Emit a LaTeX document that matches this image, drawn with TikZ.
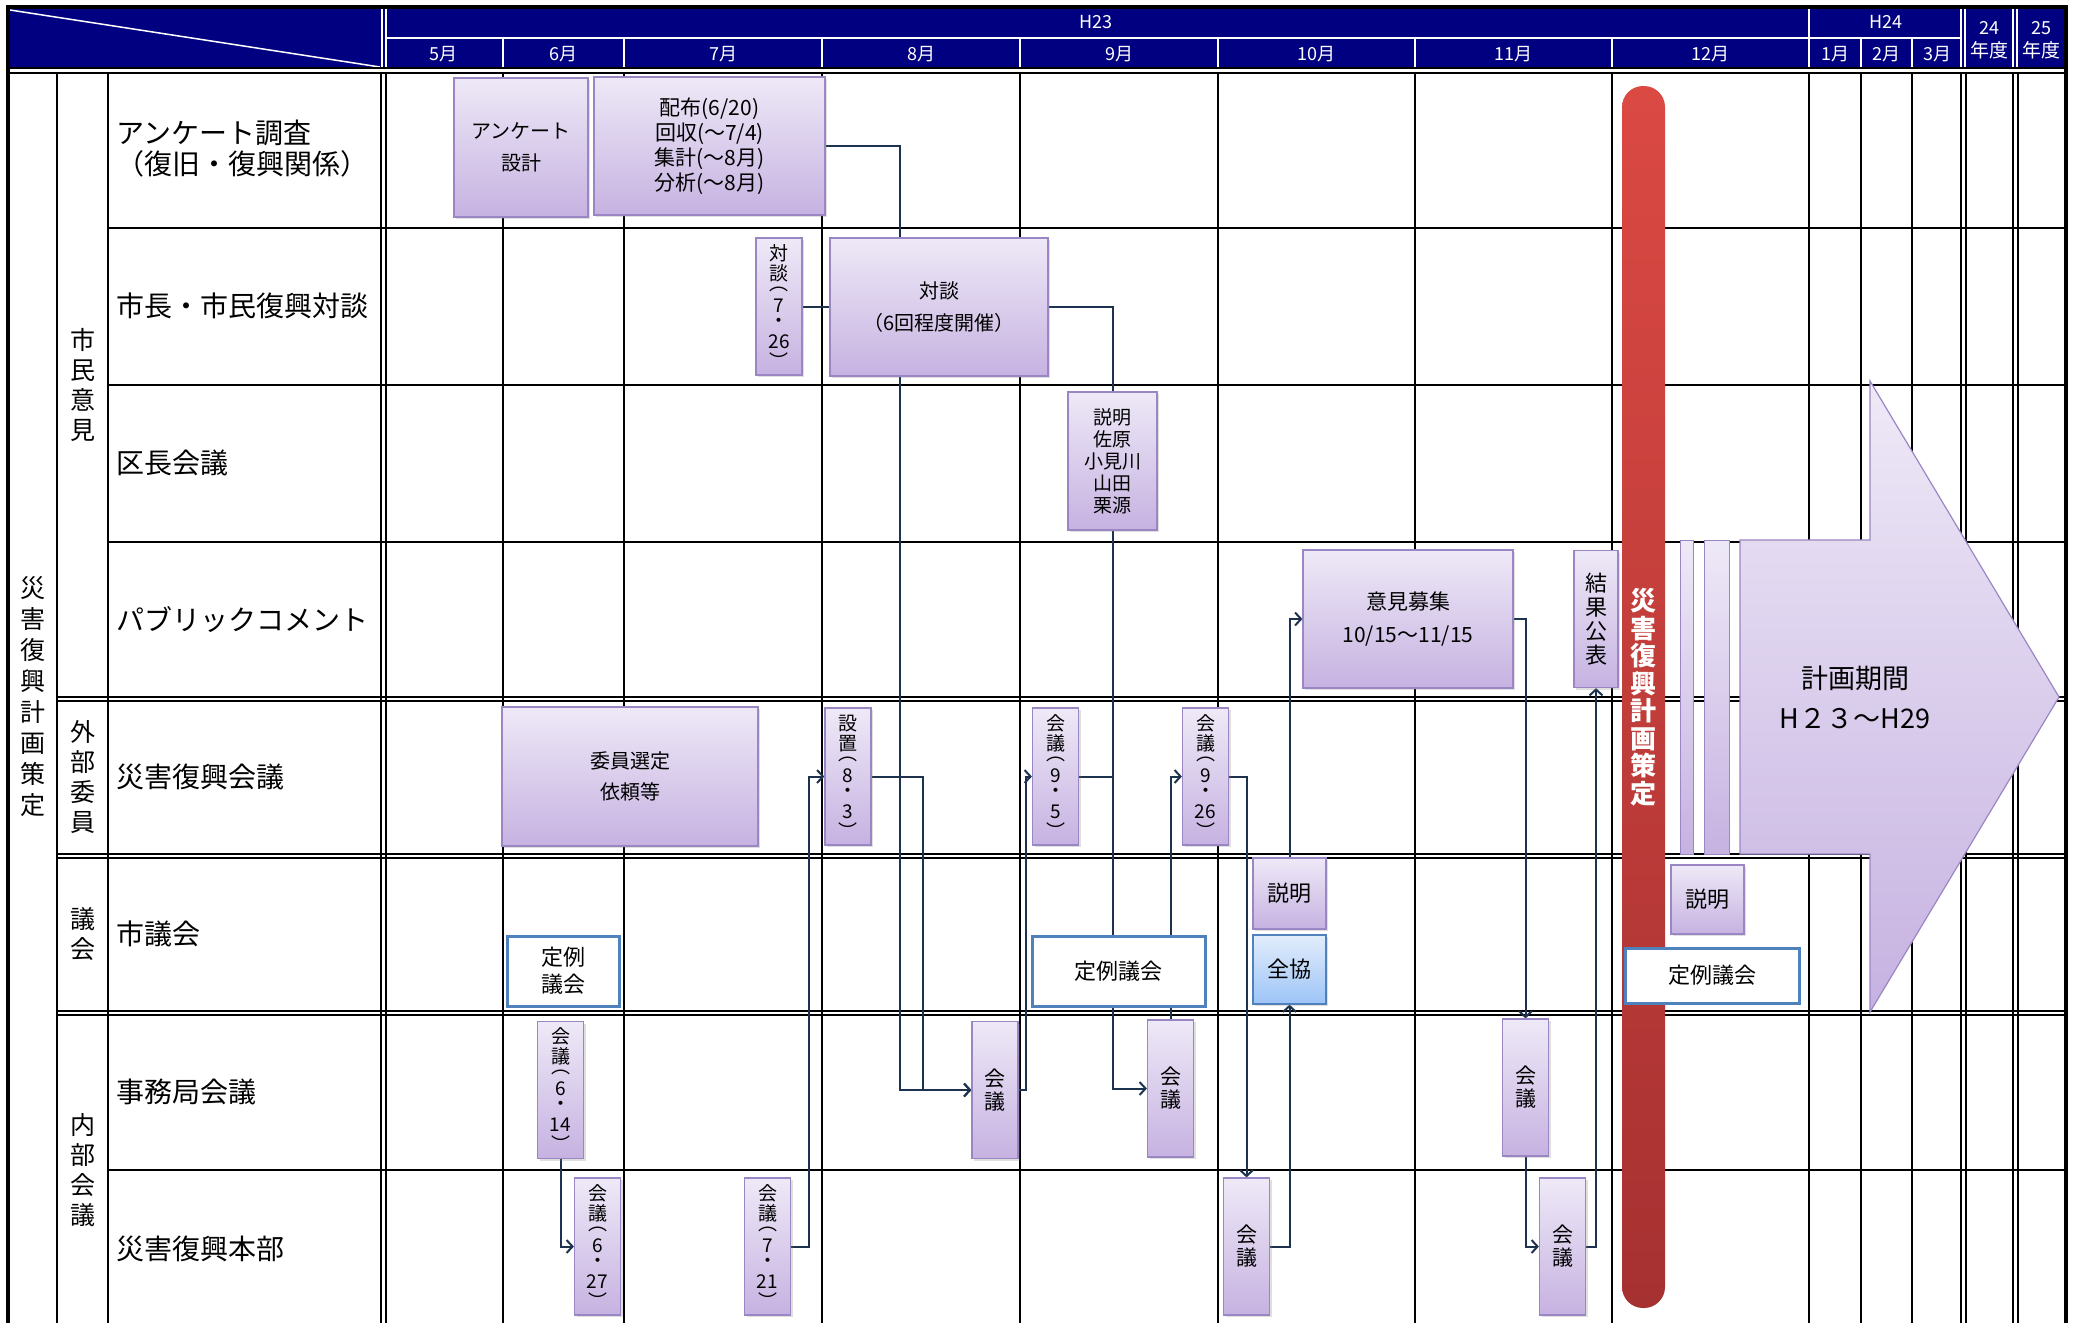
\documentclass[tikz,border=0pt]{standalone}
\usepackage{fontspec}
\setmainfont{Noto Sans CJK JP}
\usepackage{tikz}
\usetikzlibrary{arrows.meta, shadows, calc}
\definecolor{hdrblue}{HTML}{000080}
\definecolor{purtop}{HTML}{EEE9F7}
\definecolor{purbot}{HTML}{C6B2E1}
\definecolor{purline}{HTML}{9B86C4}
\definecolor{conncol}{HTML}{1C324E}
\definecolor{blueline}{HTML}{4F81BD}
\definecolor{zentop}{HTML}{E2EDFB}
\definecolor{zenbot}{HTML}{9DC4F7}
\definecolor{redtop}{HTML}{DB4943}
\definecolor{redbot}{HTML}{A63131}
\pgfdeclarelayer{grid}
\pgfdeclarelayer{lines}
\pgfsetlayers{grid,lines,main}

\begin{document}
\begin{tikzpicture}[x=1pt, y=-1pt,
    gridline/.style={line width=2pt},
    hdrline/.style={white, line width=1.5pt},
    hdr/.style={text=white, inner sep=0pt, font=\fontsize{18}{20}\selectfont},
    rowlbl/.style={anchor=west, align=left, inner sep=0pt, font=\fontsize{28}{31}\selectfont},
    grplbl/.style={align=center, inner sep=0pt, font=\fontsize{25}{30}\selectfont},
    box/.style={draw=purline, line width=1.2pt, top color=purtop, bottom color=purbot,
      inner sep=0pt, align=center, font=\fontsize{20}{25}\selectfont,
      drop shadow={shadow xshift=2pt, shadow yshift=-2pt, opacity=0.25}},
    tate/.style={box, minimum width=46pt, minimum height=137pt, font=\fontsize{19}{20}\selectfont},
    teirei/.style={draw=blueline, line width=3pt, fill=white, inner sep=0pt, align=center,
      font=\fontsize{22}{27}\selectfont},
    conn/.style={draw=conncol, line width=2pt},
    arr/.style={conn, -{Straight Barb[length=6pt, width=13pt, line width=2pt]}}]
  \useasboundingbox (0,0) rectangle (2083,1323);

  % 枠と罫線
  \begin{pgfonlayer}{grid}
    \fill[white] (0,0) rectangle (2083,1323);
    \fill[hdrblue] (8,8) rectangle (2066,68);
    \draw[hdrline] (10,10) -- (380,67);
    \draw[hdrline] (386,38) -- (1961,38);
    \foreach \x in {503,624,822,1020,1218,1415,1612,1861,1912}
      \draw[hdrline] (\x,38) -- (\x,68);
    \draw[hdrline] (1809,8) -- (1809,68);
    \foreach \x in {382,386,1961,1965,2013,2017}
      \draw[white, line width=1.2pt] (\x,8) -- (\x,68);
    \draw[line width=4pt] (6,7) -- (2068,7);
    \draw[line width=2.5pt] (8,68) -- (2066,68);
    \draw[line width=2pt] (8,73) -- (2066,73);
    \foreach \x in {57,108,503,624,822,1020,1218,1415,1612,1809,1861,1912}
      \draw[gridline] (\x,73) -- (\x,1323);
    \foreach \x in {381,386,1961,1966,2013,2018}
      \draw[line width=1.6pt] (\x,73) -- (\x,1323);
    \foreach \y in {228,385,542,1170}
      \draw[gridline] (108,\y) -- (2066,\y);
    \foreach \y in {697,701,854,858,1011,1015}
      \draw[line width=1.6pt] (57,\y) -- (2066,\y);
    \draw[line width=4pt] (8,7) -- (8,1323);
    \draw[line width=4pt] (2066,7) -- (2066,1323);
  \end{pgfonlayer}

  % 見出し
  \foreach \x/\t/\n in {443.5/5月/m5, 563.5/6月/m6, 723/7月/m7, 921/8月/m8, 1119/9月/m9,
      1316.5/10月/m10, 1513.5/11月/m11, 1710.5/12月/m12, 1835/1月/m1, 1886.5/2月/m2, 1937.5/3月/m3}
    \node[hdr] (\n) at (\x,54) {\t};
  \node[hdr] (h23) at (1096,22) {H23};
  \node[hdr] (h24) at (1886,22) {H24};
  \node[hdr] (y24) at (1989,28) {24};
  \node[hdr, font=\fontsize{19}{20}\selectfont] (y24b) at (1989,50) {年度};
  \node[hdr] (y25) at (2041,28) {25};
  \node[hdr, font=\fontsize{19}{20}\selectfont] (y25b) at (2041,50) {年度};

  % 左の区分
  \node[grplbl, font=\fontsize{25}{31}\selectfont] (sakuteiL) at (33,697) {災\\害\\復\\興\\計\\画\\策\\定};
  \node[grplbl] (shimin) at (83,385) {市\\民\\意\\見};
  \node[grplbl] (gaibu) at (83,777) {外\\部\\委\\員};
  \node[grplbl] (gikai) at (83,934) {議\\会};
  \node[grplbl] (naibu) at (83,1170) {内\\部\\会\\議};
  \node[rowlbl] (r1) at (116,149) {アンケート調査\\（復旧・復興関係）};
  \node[rowlbl] (r2) at (116,306) {市長・市民復興対談};
  \node[rowlbl] (r3) at (116,463) {区長会議};
  \node[rowlbl] (r4) at (116,620) {パブリックコメント};
  \node[rowlbl] (r5) at (116,777) {災害復興会議};
  \node[rowlbl] (r6) at (116,934) {市議会};
  \node[rowlbl] (r7) at (116,1092) {事務局会議};
  \node[rowlbl] (r8) at (116,1249) {災害復興本部};

  % 策定の帯と計画期間
  \path[top color=redtop, bottom color=redbot, rounded corners=21pt] (1622,86) rectangle (1665,1308);
  \node[text=white, align=center, font=\bfseries\fontsize{26}{27.5}\selectfont] (sakutei) at (1643.5,697)
    {災\\害\\復\\興\\計\\画\\策\\定};
  \path[draw=purline, line width=1.2pt, top color=purtop, bottom color=purbot]
    (1740,540) -- (1870,540) -- (1870,381) -- (2059,697) -- (1870,1012) -- (1870,854) -- (1740,854) -- cycle;
  \path[draw=purline, line width=1pt, top color=purtop, bottom color=purbot] (1680,540) rectangle (1693,854);
  \path[draw=purline, line width=1pt, top color=purtop, bottom color=purbot] (1704,540) rectangle (1729,854);
  \node[align=center, font=\fontsize{27}{40}\selectfont] (kikan) at (1855,697) {計画期間\\H２３～H29};

  % 市民意見
  \node[box, minimum width=134pt, minimum height=139pt, font=\fontsize{20}{32}\selectfont] (anketo) at (521,147.5) {アンケート\\設計};
  \node[box, minimum width=231pt, minimum height=138pt, font=\fontsize{21}{25}\selectfont] (haifu) at (709.5,146)
    {配布(6/20)\\回収(～7/4)\\集計(～8月)\\分析(～8月)};
  \node[tate] (taidan726) at (779,306.5) {対\\談\\[-10pt]︵\\[2pt]7\\[-5pt]・\\[1pt]26\\︶};
  \node[box, minimum width=218pt, minimum height=138pt, font=\fontsize{20}{32}\selectfont] (taidan) at (939,307) {対談\\（6回程度開催）};
  \node[box, minimum width=89pt, minimum height=138pt, font=\fontsize{19}{22}\selectfont] (kucho) at (1112.5,461) {説明\\佐原\\小見川\\山田\\栗源};
  \node[box, minimum width=210pt, minimum height=138pt, font=\fontsize{21}{33}\selectfont] (iken) at (1408,619) {意見募集\\10/15～11/15};
  \node[tate, minimum width=44pt, font=\fontsize{22}{24}\selectfont] (kekka) at (1596,619) {結\\果\\公\\表};

  % 外部委員
  \node[box, minimum width=256pt, minimum height=139pt, font=\fontsize{20}{31}\selectfont] (iin) at (630,776.5) {委員選定\\依頼等};
  \node[tate] (setchi) at (848,776.5) {設\\置\\[-10pt]︵\\[2pt]8\\[-5pt]・\\[1pt]3\\︶};
  \node[tate] (kaigi95) at (1055.5,776.5) {会\\議\\[-10pt]︵\\[2pt]9\\[-5pt]・\\[1pt]5\\︶};
  \node[tate] (kaigi926) at (1205.5,776.5) {会\\議\\[-10pt]︵\\[2pt]9\\[-5pt]・\\[1pt]26\\︶};

  % 議会
  \node[teirei, minimum width=112pt, minimum height=70pt] (teirei6) at (563,971) {定例\\議会};
  \node[teirei, minimum width=173pt, minimum height=70pt] (teirei9) at (1118.5,971) {定例議会};
  \node[box, minimum width=73pt, minimum height=71pt, font=\fontsize{22}{24}\selectfont] (setsumei10) at (1289.5,893.5) {説明};
  \node[box, draw=blueline, top color=zentop, bottom color=zenbot, minimum width=73pt, minimum height=69pt,
    font=\fontsize{22}{24}\selectfont] (zenkyo) at (1289.5,969.5) {全協};
  \node[box, minimum width=73pt, minimum height=69pt, font=\fontsize{22}{24}\selectfont] (setsumei12) at (1707.5,899.5) {説明};
  \node[teirei, minimum width=174pt, minimum height=55pt] (teirei12) at (1712,975.5) {定例議会};

  % 内部会議
  \node[tate] (jim614) at (560.5,1090) {会\\議\\[-10pt]︵\\[2pt]6\\[-5pt]・\\[1pt]14\\︶};
  \node[tate, font=\fontsize{21}{23}\selectfont] (jim8) at (995,1090) {会\\議};
  \node[tate, font=\fontsize{21}{23}\selectfont] (jim9) at (1170.5,1088.5) {会\\議};
  \node[tate, font=\fontsize{21}{23}\selectfont] (jim11) at (1525.5,1087.5) {会\\議};
  \node[tate] (hon627) at (597.5,1246.5) {会\\議\\[-10pt]︵\\[2pt]6\\[-5pt]・\\[1pt]27\\︶};
  \node[tate] (hon721) at (767.5,1246.5) {会\\議\\[-10pt]︵\\[2pt]7\\[-5pt]・\\[1pt]21\\︶};
  \node[tate, font=\fontsize{21}{23}\selectfont] (hon10) at (1246.5,1246.5) {会\\議};
  \node[tate, font=\fontsize{21}{23}\selectfont] (hon11) at (1562.5,1246.5) {会\\議};

  % 流れ
  \begin{pgfonlayer}{lines}
    \draw[arr] (haifu.east) -- ++(74,0) |- (jim8.west);
    \draw[arr] (setchi.east) -- ++(51,0) |- (jim8.west);
    \draw[conn] (taidan726.east) -- (taidan726.east -| taidan.west);
    \draw[conn] (taidan.east) -| (kucho.north);
    \draw[arr] (kucho.south) |- (jim9.west);
    \draw[conn] (kaigi95.east) -- (kaigi95.east -| kucho.south);
    \draw[arr] (jim8.east) -- ++(7,0) |- (kaigi95.west);
    \draw[arr] (hon721.east) -- ++(18,0) |- (setchi.west);
    \draw[arr] (jim614.south) |- (hon627.west);
    \draw[arr] (jim9.north) |- (kaigi926.west);
    \draw[arr] (kaigi926.east) -| (hon10.north);
    \draw[arr] (hon10.east) -| (zenkyo.south);
    \draw[arr] (setsumei10.north) |- (iken.west);
    \draw[arr] (iken.east) -| (jim11.north);
    \draw[arr] (jim11.south) |- (hon11.west);
    \draw[arr] (hon11.east) -| (kekka.south);
  \end{pgfonlayer}
\end{tikzpicture}
\end{document}
